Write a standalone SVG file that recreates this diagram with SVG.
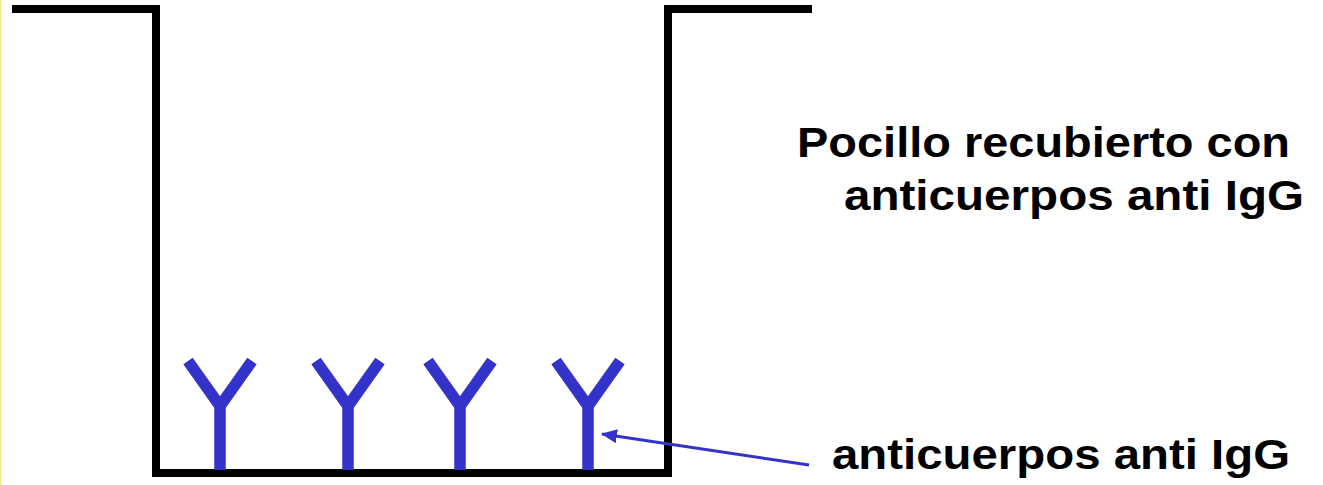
<svg xmlns="http://www.w3.org/2000/svg" width="1323" height="485" viewBox="0 0 1323 485">
  <style>
    .wall { fill: none; stroke: #000; stroke-width: 8; stroke-linejoin: miter; stroke-linecap: butt; }
    .ab { fill: none; stroke: #3333CC; stroke-width: 11.5; stroke-linecap: butt; stroke-linejoin: miter; }
    .lbl { font-family: "Liberation Sans", Arial, sans-serif; font-weight: bold; font-size: 43px; fill: #000; }
    .conn { fill: none; stroke: #3333CC; stroke-width: 3; }
  </style>
  <defs>
    <marker id="arrow" viewBox="0 0 16 14" refX="15" refY="7" markerWidth="16" markerHeight="14" markerUnits="userSpaceOnUse" orient="auto">
      <path d="M0,0 L16,7 L0,14 Z" fill="#3333CC"/>
    </marker>
    <g id="yab">
      <path class="ab" d="M-32,361 L0,406 L32,361"/>
      <path class="ab" d="M0,403 V470"/>
    </g>
  </defs>
  <rect x="0" y="0" width="1323" height="485" fill="#fff"/>
  <rect x="0" y="0" width="1.5" height="485" fill="#FFE98A"/>
  <g id="well">
    <path class="wall" d="M12,9 H156 V473 H668 V9 H812"/>
  </g>
  <g id="antibody1"><use href="#yab" x="220"/></g>
  <g id="antibody2"><use href="#yab" x="348"/></g>
  <g id="antibody3"><use href="#yab" x="460"/></g>
  <g id="antibody4"><use href="#yab" x="588"/></g>
  <g id="label-well">
    <text class="lbl" x="797" y="157" textLength="493" lengthAdjust="spacingAndGlyphs">Pocillo recubierto con</text>
    <text class="lbl" x="844" y="210" textLength="460" lengthAdjust="spacingAndGlyphs">anticuerpos anti IgG</text>
  </g>
  <g id="label-antibodies">
    <text class="lbl" x="832" y="469" textLength="458" lengthAdjust="spacingAndGlyphs">anticuerpos anti IgG</text>
  </g>
  <g id="connectors">
    <line class="conn" x1="809" y1="465" x2="602" y2="434" marker-end="url(#arrow)"/>
  </g>
</svg>
